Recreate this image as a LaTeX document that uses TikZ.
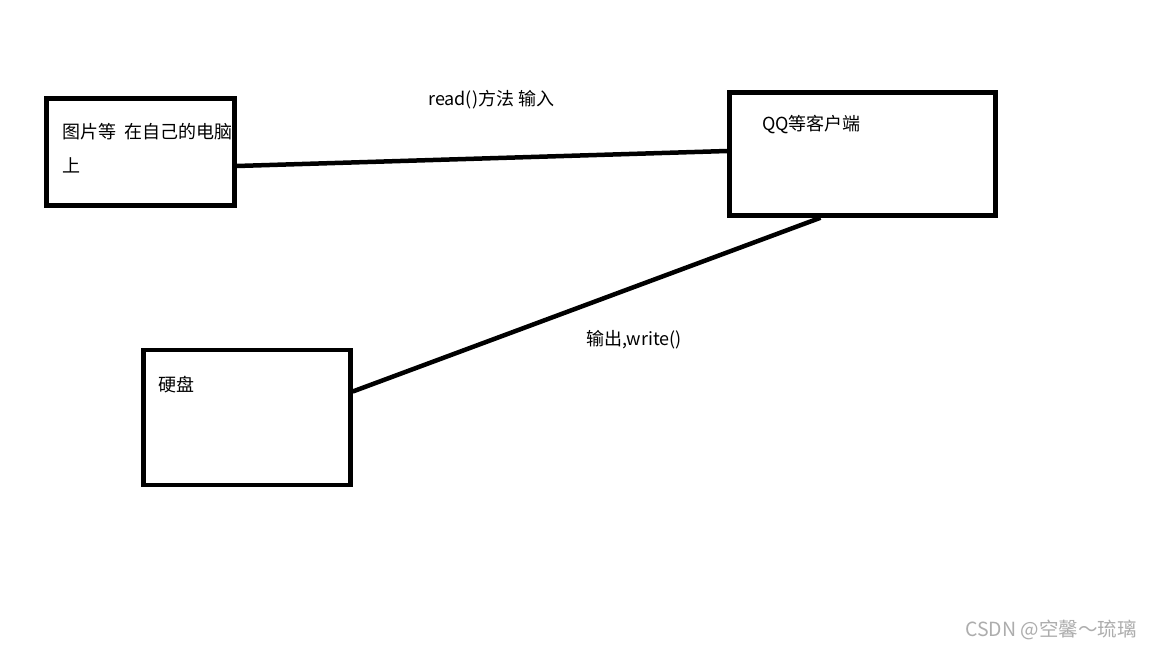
\documentclass[tikz,border=0pt]{standalone}
\usepackage{fontspec}
\setmainfont{Noto Sans CJK SC}
\newfontfamily\cjk{Noto Sans CJK SC}
\begin{document}
\begin{tikzpicture}[x=1pt,y=-1pt,
  box/.style={draw=black,line width=4.5pt,minimum width=#1,inner sep=0pt},
  txt/.style={anchor=west,inner sep=0pt,font=\cjk\fontsize{18}{21}\selectfont},
  link/.style={draw=black,line width=4.5pt},
  signature/.style={anchor=east,inner sep=0pt,text=black!32,font=\cjk\fontsize{19.5}{22}\selectfont}]
  % canvas
  \useasboundingbox (0,0) rectangle (1152,648);
  \fill[white] (0,0) rectangle (1152,648);
  % boxes
  \node[box=188pt,minimum height=107pt] (pic) at (140.5,152) {};
  \node[box=266pt,minimum height=123pt] (qq)  at (862.5,154) {};
  \node[box=207pt,minimum height=135pt] (disk) at (247,417.5) {};
  % box texts
  \node[txt] (pict) at (62,132) {图片等\ \ 在自己的电脑};
  \node[txt] (pict2) at (62,165) {上};
  \node[txt] (qqt) at (762,125) {QQ等客户端};
  \node[txt] (diskt) at (158,385) {硬盘};
  % connectors
  \draw[link] ([yshift=-14pt]pic.east) -- ([yshift=3pt]qq.west);
  \draw[link] ([xshift=-42pt]qq.south) -- ([yshift=26pt]disk.east);
  % connector labels
  \node[txt] (rd) at (428,100) {read()方法 输入};
  \node[txt] (wr) at (586,340) {输出,write()};
  % author line
  \node[signature] (sig) at (1137,630) {CSDN @空馨～琉璃};
\end{tikzpicture}
\end{document}
